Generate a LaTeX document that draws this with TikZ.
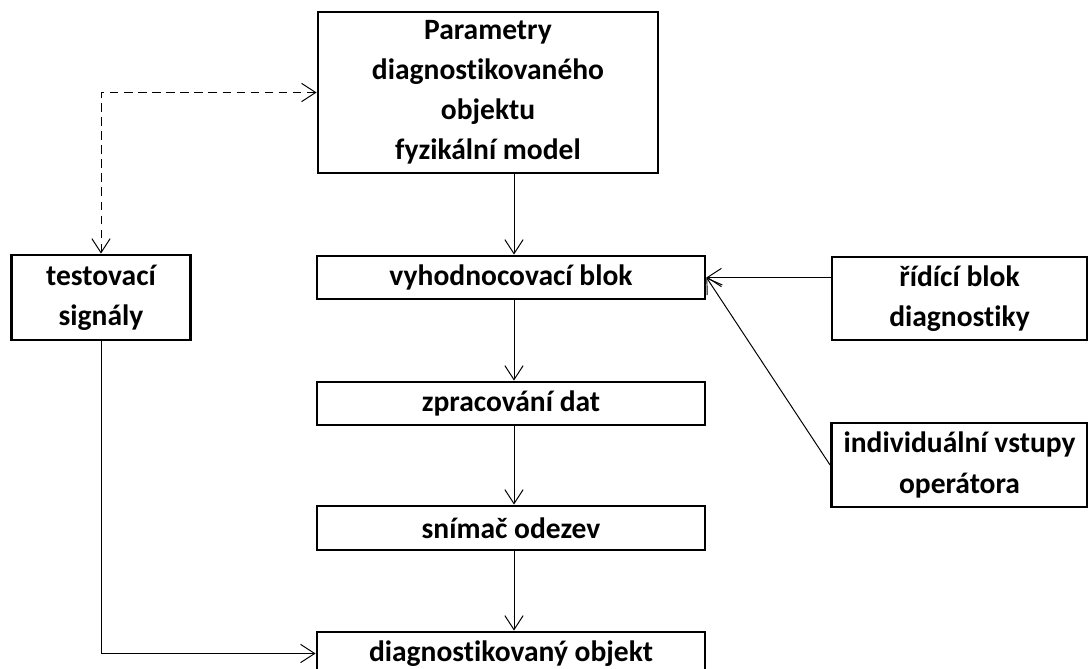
\documentclass[tikz,border=0pt]{standalone}
\usepackage{fontspec}
\setmainfont[Ligatures=NoCommon]{Carlito}
\usetikzlibrary{arrows.meta}
\begin{document}
\begin{tikzpicture}[x=0.025cm,y=-0.025cm]
\tikzset{blok/.style = {draw, line width=2pt, rectangle, align=center, inner sep=0pt, font=\bfseries\fontsize{21}{28.5}\selectfont},
         sipka/.style = {line width=0.7pt, -{Straight Barb[length=10pt,width=13pt]}}}
\useasboundingbox (0,0) rectangle (1088,669);
\node[blok,minimum width=8.5cm,minimum height=4.025cm] (par) at (488,92.5) {Parametry\\diagnostikovaného\\objektu\\fyzikální model};
\node[blok,minimum width=9.7cm,minimum height=1.075cm] (vyh) at (511,277.5) {vyhodnocovací blok};
\node[blok,minimum width=9.7cm,minimum height=1.075cm] (zpr) at (511,403.5) {zpracování dat};
\node[blok,minimum width=9.7cm,minimum height=1.1cm] (sni) at (511,528) {snímač odezev};
\node[blok,minimum width=9.7cm,minimum height=1.075cm] (diag) at (511,653.5) {diagnostikovaný objekt};
\node[blok,minimum width=4.475cm,minimum height=2.125cm] (test) at (101,297.5) {testovací\\signály};
\node[blok,minimum width=6.375cm,minimum height=2.075cm] (rid) at (959.5,298.5) {řídící blok\\diagnostiky};
\node[blok,minimum width=6.4cm,minimum height=2.1cm] (ind) at (959.5,465) {individuální vstupy\\operátora};
\coordinate (osa) at (514,0);
\draw[sipka,{Straight Barb[length=10pt,width=13pt]}-{Straight Barb[length=10pt,width=13pt]},dash pattern=on 6pt off 4pt] (test.north) |- (par.west);
\draw[sipka] (test.south) |- (diag.west);
\draw[sipka] (par.south -| osa) -- (vyh.north -| osa);
\draw[sipka] (vyh.south -| osa) -- (zpr.north -| osa);
\draw[sipka] (zpr.south -| osa) -- (sni.north -| osa);
\draw[sipka] (sni.south -| osa) -- (diag.north -| osa);
\draw[sipka] (rid.west |- vyh.east) -- (vyh.east);
\draw[sipka] (ind.west) -- (vyh.east);
\end{tikzpicture}
\end{document}
